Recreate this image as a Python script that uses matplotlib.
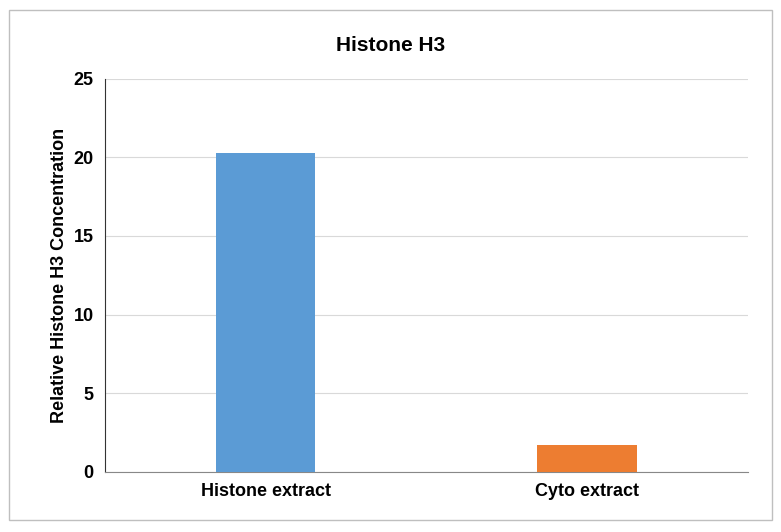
import matplotlib.pyplot as plt
from matplotlib.patches import Rectangle

categories = ['Histone extract', 'Cyto extract']
values = [20.3, 1.7]
colors = ['#5B9BD5', '#ED7D31']

plt.rcParams['font.family'] = ['Liberation Sans', 'DejaVu Sans']

fig = plt.figure(figsize=(7.81, 5.32), dpi=100)
ax = fig.add_axes([0.134, 0.113, 0.824, 0.739])

x = range(len(categories))
ax.bar(x, values, width=0.31, color=colors, zorder=3)

ax.set_xlim(-0.5, 1.5)
ax.set_ylim(0, 25)
ax.set_yticks([0, 5, 10, 15, 20, 25])
ax.set_xticks(list(x))
ax.set_xticklabels(categories, fontsize=13, fontweight='bold')
for lbl in ax.get_yticklabels():
    lbl.set_fontsize(13)
    lbl.set_fontweight('bold')
ax.set_ylabel('Relative Histone H3 Concentration', fontsize=13, fontweight='bold')
ax.grid(axis='y', color='#d9d9d9', linewidth=0.8, zorder=0)
ax.tick_params(length=0, pad=8)
for s in ['top', 'right']:
    ax.spines[s].set_visible(False)
ax.spines['left'].set_color('#333333')
ax.spines['bottom'].set_color('#888888')

fig.text(0.5, 0.915, 'Histone H3', ha='center', va='center', fontsize=15, fontweight='bold')

# outer chart border
fig.patches.append(Rectangle((0.012, 0.022), 0.976, 0.96, transform=fig.transFigure,
                             fill=False, edgecolor='#bfbfbf', linewidth=1))

plt.savefig('out.png')
